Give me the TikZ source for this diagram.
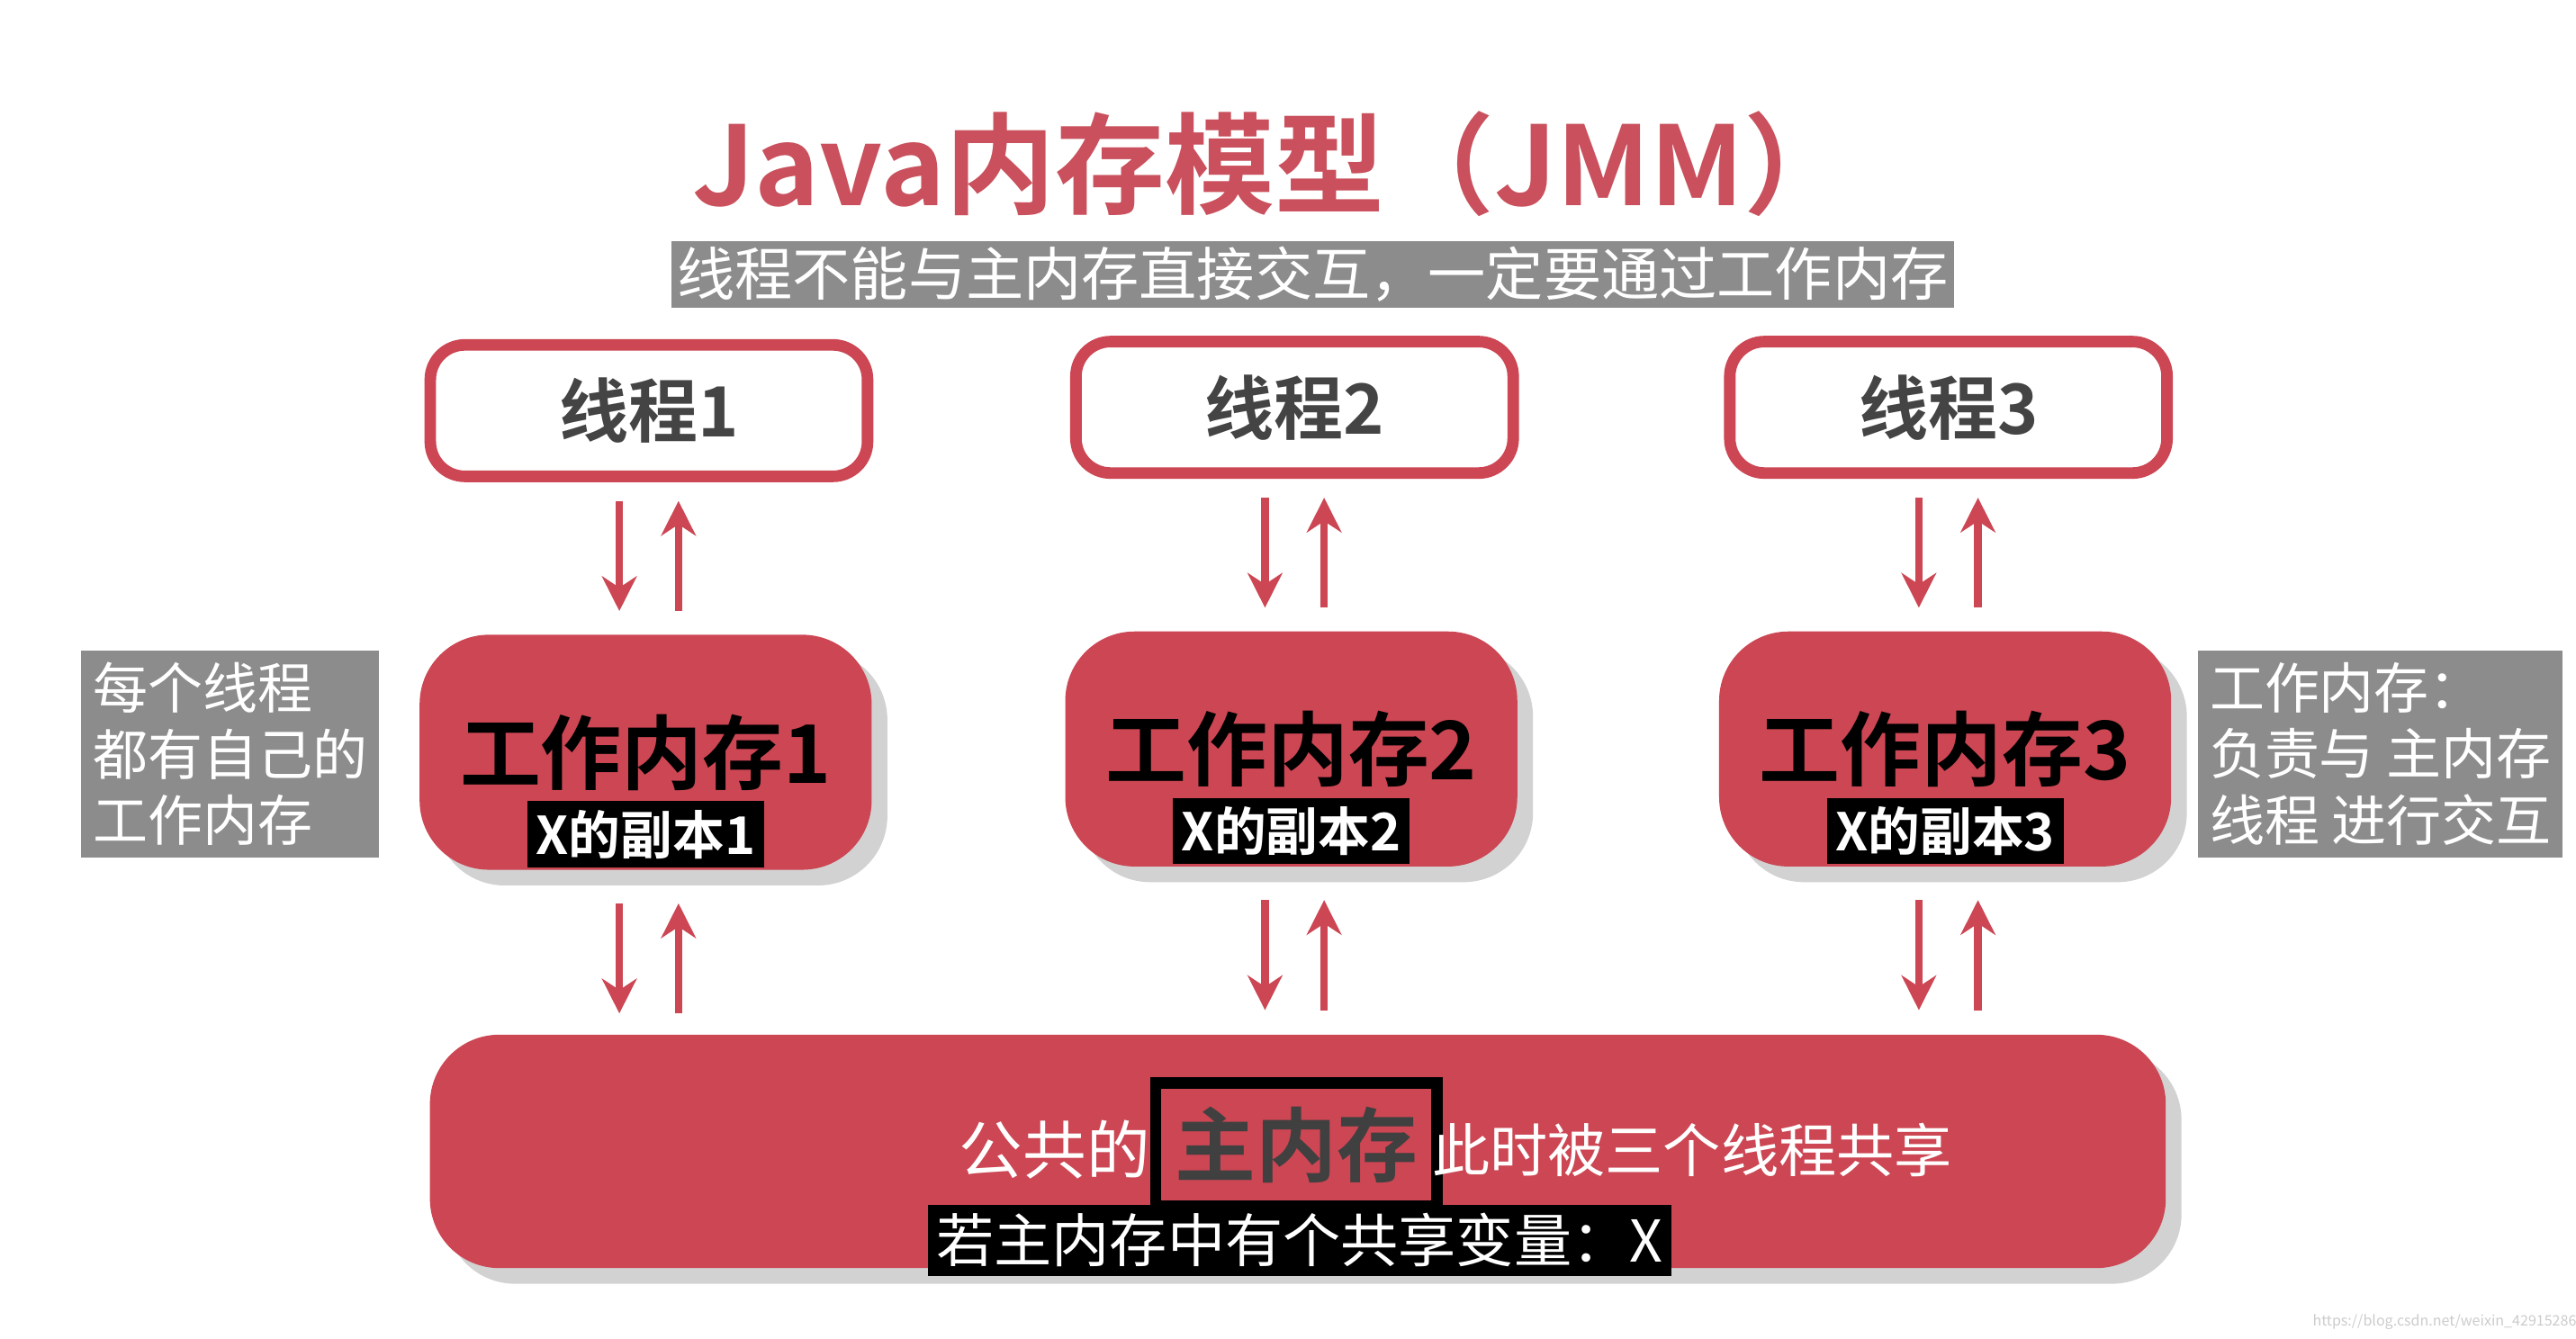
\documentclass[tikz,border=0pt]{standalone}
\usepackage{fontspec}
\setmainfont{Noto Sans CJK SC}
\newfontfamily\cjkb{Noto Sans CJK SC Bold}
\usetikzlibrary{arrows.meta}
\definecolor{jred}{HTML}{CC4653}
\definecolor{tred}{HTML}{C9505C}
\definecolor{gbox}{HTML}{8C8C8C}
\definecolor{dgray}{HTML}{444444}
\tikzset{
 thr/.style={draw=jred,line width=2pt,fill=white,rounded corners=6pt,minimum width=2.66cm,minimum height=0.8cm,font=\fontsize{12}{12}\cjkb,text=dgray},
 wm/.style={fill=jred,rounded corners=12pt,minimum width=2.75cm,minimum height=1.43cm,drop shadow={opacity=0.35}},
 blk/.style={fill=black,text=white,inner sep=1.5pt,font=\fontsize{9}{9}\cjkb},
 note/.style={fill=gbox,text=white,inner sep=2pt,align=left,font=\fontsize{9.5}{11.5}\selectfont},
 arr/.style={-{Stealth[length=6pt,width=6pt]},jred,line width=1.3pt}
}
\usetikzlibrary{shadows}
\begin{document}
\begin{tikzpicture}[x=0.01cm,y=-0.01cm]
\useasboundingbox (0,0) rectangle (1568,815);
\fill[white] (0,0) rectangle (1568,815);
\node[text=tred,font=\fontsize{19}{19}\cjkb] (title) at (775,100) {Java内存模型（JMM）};
\node[fill=gbox,text=white,font=\fontsize{10}{10}\selectfont,minimum width=7.38cm,minimum height=0.4cm,inner sep=1pt] (banner) at (799,167) {线程不能与主内存直接交互，一定要通过工作内存};
\foreach \i/\x/\y in {1/395/250,2/788/248,3/1186/248}{
 \node[thr] (t\i) at (\x,\y) {线程\i};
 \node[wm] (w\i) at (\x-2,\y+208) {};
 \node[font=\fontsize{14}{14}\cjkb] (wl\i) at (\x-2,\y+208) {工作内存\i};
 \node[blk] (x\i) at (\x-2,\y+258) {X的副本\i};
 \coordinate (a\i) at (\x-18,\y+55);
 \coordinate (b\i) at (\x-18,\y+122);
 \coordinate (c\i) at (\x+18,\y+122);
 \coordinate (d\i) at (\x+18,\y+55);
 \draw[arr] (a\i) -- (b\i);
 \draw[arr] (c\i) -- (d\i);
 \coordinate (e\i) at (\x-18,\y+300);
 \coordinate (f\i) at (\x-18,\y+367);
 \coordinate (g\i) at (\x+18,\y+367);
 \coordinate (h\i) at (\x+18,\y+300);
 \draw[arr] (e\i) -- (f\i);
 \draw[arr] (g\i) -- (h\i);
}
\node[fill=jred,rounded corners=12pt,minimum width=10.56cm,minimum height=1.42cm,drop shadow={opacity=0.35}] (mm) at (790,701) {};
\node[text=white,font=\fontsize{11}{11}\selectfont] (pub) at (642,700) {公共的};
\node[draw=black,line width=2pt,minimum width=1.58cm,minimum height=0.75cm,font=\fontsize{14}{14}\cjkb,text=black!75] (mml) at (789,697) {主内存};
\node[text=white,font=\fontsize{10}{10}\selectfont] (sh) at (1030,700) {此时被三个线程共享};
\node[fill=black,text=white,font=\fontsize{10}{10}\selectfont,inner sep=1.5pt] (xv) at (791,755) {若主内存中有个共享变量：X};
\node[note] (ln) at (140,459) {每个线程\\都有自己的\\工作内存};
\node[note] (rn) at (1449,459) {工作内存：\\负责与 主内存\\线程 进行交互};
\node[text=black!20,font=\fontsize{2.5}{3}\selectfont] (wmk) at (1488,805) {https://blog.csdn.net/weixin\_42915286};
\end{tikzpicture}
\end{document}
